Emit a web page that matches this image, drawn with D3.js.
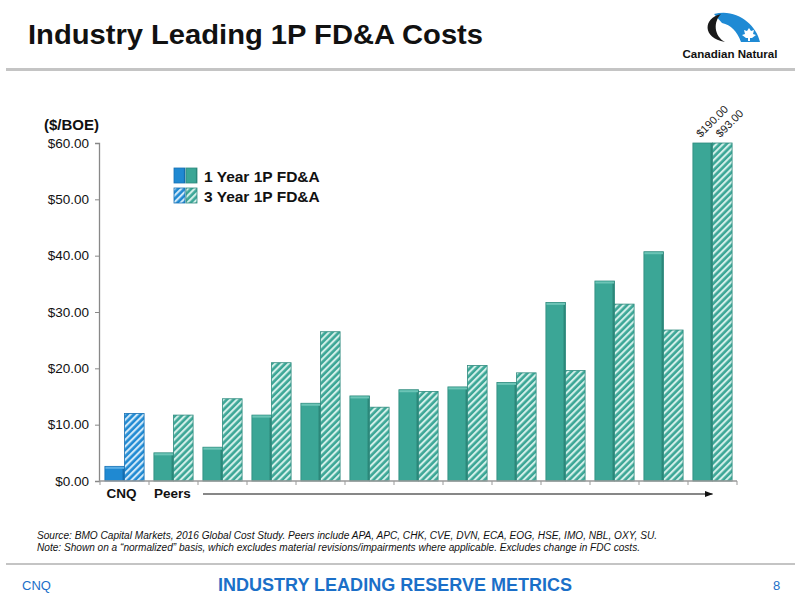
<!DOCTYPE html>
<html>
<head>
<meta charset="utf-8">
<script src="https://cdn.jsdelivr.net/npm/d3@7"></script>
<style>
  body { margin: 0; background: #fff; }
  svg { font-family: Arial, "Liberation Sans", sans-serif; }
</style>
</head>
<body>
<svg id="chart" width="800" height="600"></svg>
<script>
const CATEGORIES = ["CNQ", "Peer 1", "Peer 2", "Peer 3", "Peer 4", "Peer 5", "Peer 6",
    "Peer 7", "Peer 8", "Peer 9", "Peer 10", "Peer 11", "Peer 12"];
const ONE_YEAR = [2.6, 5.0, 6.0, 11.7, 13.8, 15.1, 16.2, 16.7, 17.5, 31.7, 35.5, 40.7, 190];
const THREE_YEAR = [12.0, 11.7, 14.6, 21.0, 26.5, 13.1, 15.9, 20.5, 19.2, 19.6, 31.4, 26.8, 93];
const SERIES = ["1 Year 1P FD&A", "3 Year 1P FD&A"];
const Y_TICKS = [0, 10, 20, 30, 40, 50, 60];
const Y_MAX = 60;

const TEAL = "#3ba696";
const TEAL_DARK = "#23786b";
const TEAL_LIGHT = "#d2efe9";
const BLUE = "#1f89d2";
const BLUE_DARK = "#0f5f9e";
const BLUE_LIGHT = "#cfe8f8";
const TEXT_BLUE = "#1b6fc8";

const svg = d3.select("#chart");
const defs = svg.append("defs");

// solid bar gradients (slight 3D edge)
const addGradient = (id, dark, mid) => {
    const g = defs.append("linearGradient").attr("id", id).attr("x1", 0).attr("x2", 1);
    g.append("stop").attr("offset", "0%").attr("stop-color", mid);
    g.append("stop").attr("offset", "85%").attr("stop-color", mid);
    g.append("stop").attr("offset", "100%").attr("stop-color", dark);
};
addGradient("solid-teal", TEAL_DARK, TEAL);
addGradient("solid-blue", BLUE_DARK, BLUE);

const addHatch = (id, col, light) => {
    const p = defs.append("pattern")
        .attr("id", id)
        .attr("width", 4.7).attr("height", 4.7)
        .attr("patternUnits", "userSpaceOnUse")
        .attr("patternTransform", "rotate(45)");
    p.append("rect").attr("width", 4.7).attr("height", 4.7).attr("fill", col);
    p.append("rect").attr("width", 2.1).attr("height", 4.7).attr("fill", light);
};
addHatch("hatch-teal", TEAL, TEAL_LIGHT);
addHatch("hatch-blue", BLUE, BLUE_LIGHT);

const marker = defs.append("marker")
    .attr("id", "arrow").attr("viewBox", "0 0 10 10")
    .attr("refX", 9).attr("refY", 5)
    .attr("markerWidth", 7).attr("markerHeight", 7)
    .attr("orient", "auto");
marker.append("path").attr("d", "M0,1.5 L10,5 L0,8.5 Z").attr("fill", "#111");

// header
svg.append("text")
    .attr("x", 28).attr("y", 44)
    .attr("font-size", 28).attr("font-weight", "bold").attr("fill", "#111")
    .attr("textLength", 455).attr("lengthAdjust", "spacingAndGlyphs")
    .text("Industry Leading 1P FD&A Costs");

svg.append("rect").attr("x", 6).attr("y", 68).attr("width", 789).attr("height", 3).attr("fill", "#c4c4c4");

// logo
const logo = svg.append("g");
logo.append("path")
    .attr("d", "M714,14 C736,8 756,24 760,42 L741,42 C737,31 731,25 722,23 Z")
    .attr("fill", "#1f8ad4");
logo.append("path")
    .attr("d", "M721,14 C703,18 702,38 725,42 C714,36 713,22 721,14 Z")
    .attr("fill", "#1a1a1a");
logo.append("path")
    .attr("d", "M749,28 L751,31 L754,30 L753,34 L756,35 L752,38 L750,38 L750,41 L748,41 L748,38 L746,38 L742,35 L745,34 L744,30 L747,31 Z")
    .attr("fill", "#fff");
logo.append("text")
    .attr("x", 730).attr("y", 58).attr("text-anchor", "middle")
    .attr("font-size", 11).attr("font-weight", "bold").attr("fill", "#111")
    .attr("textLength", 95).attr("lengthAdjust", "spacingAndGlyphs")
    .text("Canadian Natural");

// chart scales
const x0 = d3.scaleBand().domain(CATEGORIES).range([100, 737]).paddingInner(0.2).paddingOuter(0.1);
const x1 = d3.scaleBand().domain(SERIES).range([0, x0.bandwidth()]);
const y = d3.scaleLinear().domain([0, Y_MAX]).range([481, 143]);

// y axis
const yAxis = d3.axisLeft(y).tickValues(Y_TICKS).tickSize(4).tickPadding(6)
    .tickFormat((d) => "$" + d3.format(".2f")(d));
const gy = svg.append("g").attr("transform", "translate(99,0)").call(yAxis);
gy.select(".domain").attr("stroke", "#888").attr("stroke-width", 1.3);
gy.selectAll(".tick line").attr("stroke", "#888");
gy.selectAll(".tick text").attr("font-size", 13.5).attr("fill", "#111")
    .attr("font-family", "Arial, 'Liberation Sans', sans-serif");

svg.append("text")
    .attr("x", 44).attr("y", 130)
    .attr("font-size", 15).attr("font-weight", "bold").attr("fill", "#111")
    .text("($/BOE)");

// bars
const rows = CATEGORIES.map((c, i) => ({ cat: c, vals: [ONE_YEAR[i], THREE_YEAR[i]] }));
const groups = svg.append("g").selectAll("g")
    .data(rows).enter().append("g")
    .attr("transform", (d) => `translate(${x0(d.cat)},0)`);

const bars = groups.selectAll("g.bar")
    .data((d) => d.vals.map((v, j) => ({ cat: d.cat, series: SERIES[j], v, j })))
    .enter().append("g").attr("class", "bar");

bars.append("rect")
    .attr("x", (d) => x1(d.series))
    .attr("y", (d) => y(Math.min(d.v, Y_MAX)))
    .attr("width", x1.bandwidth())
    .attr("height", (d) => y(0) - y(Math.min(d.v, Y_MAX)))
    .attr("fill", (d) => {
        const isCnq = d.cat === "CNQ";
        if (d.j === 0) return isCnq ? "url(#solid-blue)" : "url(#solid-teal)";
        return isCnq ? "url(#hatch-blue)" : "url(#hatch-teal)";
    })
    .attr("stroke", (d) => (d.cat === "CNQ" ? "#1770b3" : "#2f8b7e"))
    .attr("stroke-width", 0.8);

// lighter top bevel on solid bars
bars.filter((d) => d.j === 0 && d.v <= Y_MAX)
    .append("rect")
    .attr("x", (d) => x1(d.series) + 0.5)
    .attr("y", (d) => y(d.v) + 0.5)
    .attr("width", x1.bandwidth() - 1)
    .attr("height", 2)
    .attr("fill", (d) => (d.cat === "CNQ" ? "#5aaee6" : "#6cc4b6"));

// off-scale value labels
groups.filter((d) => d.vals.some((v) => v > Y_MAX))
    .selectAll("text.over")
    .data((d) => d.vals.map((v, j) => ({ v, series: SERIES[j] })).filter((d) => d.v > Y_MAX))
    .enter().append("text")
    .attr("class", "over")
    .attr("transform", (d) => `translate(${x1(d.series) + x1.bandwidth() / 2 - 2},${y(Y_MAX) - 5}) rotate(-45)`)
    .attr("font-size", 11).attr("fill", "#222")
    .text((d) => "$" + d3.format(".2f")(d.v));

// x axis line and group ticks
svg.append("line")
    .attr("x1", 99).attr("x2", 737).attr("y1", y(0)).attr("y2", y(0))
    .attr("stroke", "#999").attr("stroke-width", 1.3);
const step = x0.step();
svg.append("g").selectAll("line")
    .data(d3.range(CATEGORIES.length + 1))
    .enter().append("line")
    .attr("x1", (i) => 100 + i * step).attr("x2", (i) => 100 + i * step)
    .attr("y1", y(0)).attr("y2", y(0) + 4)
    .attr("stroke", "#999");

svg.append("text")
    .attr("x", x0("CNQ") + x0.bandwidth() / 2 - 3).attr("y", 498)
    .attr("text-anchor", "middle").attr("font-size", 13.5).attr("font-weight", "bold").attr("fill", "#111")
    .text("CNQ");
svg.append("text")
    .attr("x", x0("Peer 1") + x0.bandwidth() / 2 - 1).attr("y", 498)
    .attr("text-anchor", "middle").attr("font-size", 13.5).attr("font-weight", "bold").attr("fill", "#111")
    .text("Peers");
svg.append("line")
    .attr("x1", 203).attr("x2", x0("Peer 12") + x0.bandwidth() / 2).attr("y1", 494).attr("y2", 494)
    .attr("stroke", "#111").attr("stroke-width", 1.2)
    .attr("marker-end", "url(#arrow)");

// legend
const legend = svg.append("g").attr("transform", "translate(174,168)");
legend.append("rect").attr("x", 0).attr("y", 0).attr("width", 11).attr("height", 15)
    .attr("fill", "url(#solid-blue)").attr("stroke", "#1770b3").attr("stroke-width", 0.8);
legend.append("rect").attr("x", 12).attr("y", 0).attr("width", 11).attr("height", 15)
    .attr("fill", "url(#solid-teal)").attr("stroke", "#2f8b7e").attr("stroke-width", 0.8);
legend.append("rect").attr("x", 0).attr("y", 20).attr("width", 11).attr("height", 15)
    .attr("fill", "url(#hatch-blue)").attr("stroke", "#1770b3").attr("stroke-width", 0.8);
legend.append("rect").attr("x", 12).attr("y", 20).attr("width", 11).attr("height", 15)
    .attr("fill", "url(#hatch-teal)").attr("stroke", "#2f8b7e").attr("stroke-width", 0.8);
legend.selectAll("text.lbl")
    .data(SERIES).enter().append("text")
    .attr("class", "lbl")
    .attr("x", 30).attr("y", (d, i) => 13.5 + i * 20)
    .attr("font-size", 15.5).attr("font-weight", "bold").attr("fill", "#111")
    .text((d) => d);

// notes
svg.append("text")
    .attr("x", 37).attr("y", 539)
    .attr("font-size", 10).attr("font-style", "italic").attr("fill", "#111")
    .attr("textLength", 620).attr("lengthAdjust", "spacingAndGlyphs")
    .text("Source: BMO Capital Markets, 2016 Global Cost Study. Peers include APA, APC, CHK, CVE, DVN, ECA, EOG, HSE, IMO, NBL, OXY, SU.");
svg.append("text")
    .attr("x", 37).attr("y", 551)
    .attr("font-size", 10).attr("font-style", "italic").attr("fill", "#111")
    .attr("textLength", 603).attr("lengthAdjust", "spacingAndGlyphs")
    .text("Note: Shown on a \u201cnormalized\u201d basis, which excludes material revisions/impairments where applicable. Excludes change in FDC costs.");

// footer
svg.append("rect").attr("x", 6).attr("y", 563).attr("width", 789).attr("height", 2).attr("fill", "#c4c4c4");
svg.append("text")
    .attr("x", 22).attr("y", 590)
    .attr("font-size", 13).attr("fill", TEXT_BLUE)
    .text("CNQ");
svg.append("text")
    .attr("x", 395).attr("y", 591).attr("text-anchor", "middle")
    .attr("font-size", 18).attr("font-weight", "bold").attr("fill", TEXT_BLUE)
    .attr("textLength", 354).attr("lengthAdjust", "spacingAndGlyphs")
    .text("INDUSTRY LEADING RESERVE METRICS");
svg.append("text")
    .attr("x", 773).attr("y", 590)
    .attr("font-size", 13).attr("fill", TEXT_BLUE)
    .text("8");
</script>
</body>
</html>
